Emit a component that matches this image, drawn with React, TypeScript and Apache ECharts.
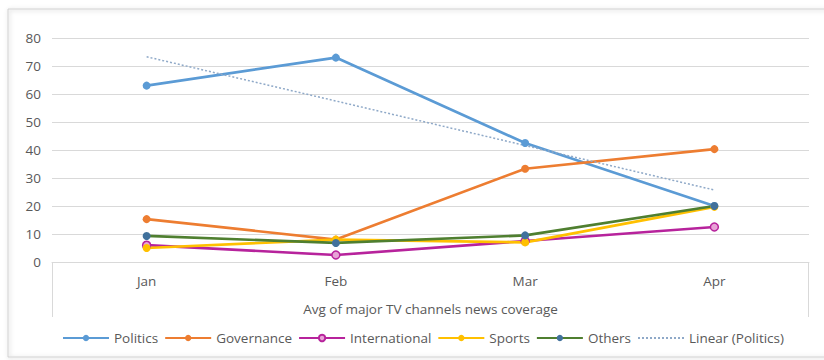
import React, { useEffect, useRef } from "react";
import * as echarts from "echarts";

const categories = ["Jan", "Feb", "Mar", "Apr"];
const politics = [63, 73, 42.5, 20];
const governance = [15.3, 8, 33.3, 40.3];
const international = [6, 2.5, 7.5, 12.5];
const sports = [5, 8, 7, 19.7];
const others = [9.3, 6.8, 9.5, 20];
const linearPolitics = [73.3, 57.5, 41.6, 25.7];
const yTicks = { min: 0, max: 80, interval: 10 };

const FONT = "Open Sans";
const TXT = "#595959";
const FS = 13.5;

export default function App() {
  const ref = useRef<HTMLDivElement>(null);
  useEffect(() => {
    const chart = echarts.init(ref.current!, null, { renderer: "svg" });
    const lineSeries = (name: string, data: number[], color: string, markerColor: string, markerFill?: string) => ({
      name,
      type: "line",
      data,
      symbol: "circle",
      symbolSize: 8,
      lineStyle: { color, width: 2.7 },
      itemStyle: markerFill
        ? { color: markerFill, borderColor: markerColor, borderWidth: 1.5 }
        : { color: markerColor, borderColor: markerColor, borderWidth: 0 },
      color,
      emphasis: { disabled: true },
    });
    chart.setOption({
      animation: false,
      backgroundColor: "#ffffff",
      textStyle: { fontFamily: FONT, color: TXT },
      grid: { left: 52, right: 15, top: 38, bottom: 98 },
      graphic: [
        {
          type: "rect",
          shape: { x: 8, y: 9, width: 830, height: 348 },
          style: { fill: "none", stroke: "#d0d0d0", lineWidth: 1, shadowBlur: 4, shadowColor: "rgba(0,0,0,0.25)", shadowOffsetX: 1, shadowOffsetY: 1 },
          z: -1,
        },
        { type: "line", shape: { x1: 52.5, y1: 262, x2: 52.5, y2: 317 }, style: { stroke: "#d9d9d9", lineWidth: 1 } },
        { type: "line", shape: { x1: 808.5, y1: 262, x2: 808.5, y2: 317 }, style: { stroke: "#d9d9d9", lineWidth: 1 } },
      ],
      legend: {
        left: 57,
        top: 326,
        itemWidth: 46,
        itemHeight: 8,
        itemGap: 6,
        textStyle: { fontFamily: FONT, fontSize: FS, color: TXT },
        data: ["Politics", "Governance", "International", "Sports", "Others", "Linear (Politics)"],
      },
      xAxis: {
        type: "category",
        data: categories,
        boundaryGap: true,
        axisLine: { lineStyle: { color: "#d9d9d9" } },
        axisTick: { show: false },
        axisLabel: { fontFamily: FONT, fontSize: FS, color: TXT, margin: 12 },
        name: "Avg of major TV channels news coverage",
        nameLocation: "middle",
        nameGap: 40,
        nameTextStyle: { fontFamily: FONT, fontSize: FS, color: TXT },
      },
      yAxis: {
        type: "value",
        min: yTicks.min,
        max: yTicks.max,
        interval: yTicks.interval,
        axisLine: { show: false },
        axisTick: { show: false },
        splitLine: { lineStyle: { color: "#d9d9d9" } },
        axisLabel: { fontFamily: FONT, fontSize: FS, color: TXT, margin: 11 },
      },
      series: [
        lineSeries("Politics", politics, "#5B9BD5", "#5B9BD5"),
        lineSeries("Governance", governance, "#ED7D31", "#ED7D31"),
        lineSeries("International", international, "#B7239C", "#B7239C", "#E8A3D6"),
        lineSeries("Sports", sports, "#FFC000", "#FFC000"),
        lineSeries("Others", others, "#4F7F30", "#41719C"),
        {
          name: "Linear (Politics)",
          type: "line",
          data: linearPolitics,
          symbol: "none",
          color: "#8FA9C8",
          itemStyle: { opacity: 0 },
          lineStyle: { color: "#8FA9C8", width: 1.5, type: [2, 2] },
          emphasis: { disabled: true },
        },
      ],
    });
    return () => chart.dispose();
  }, []);
  return <div ref={ref} style={{ width: 824, height: 360, position: "absolute", left: 0, top: 0 }} />;
}
